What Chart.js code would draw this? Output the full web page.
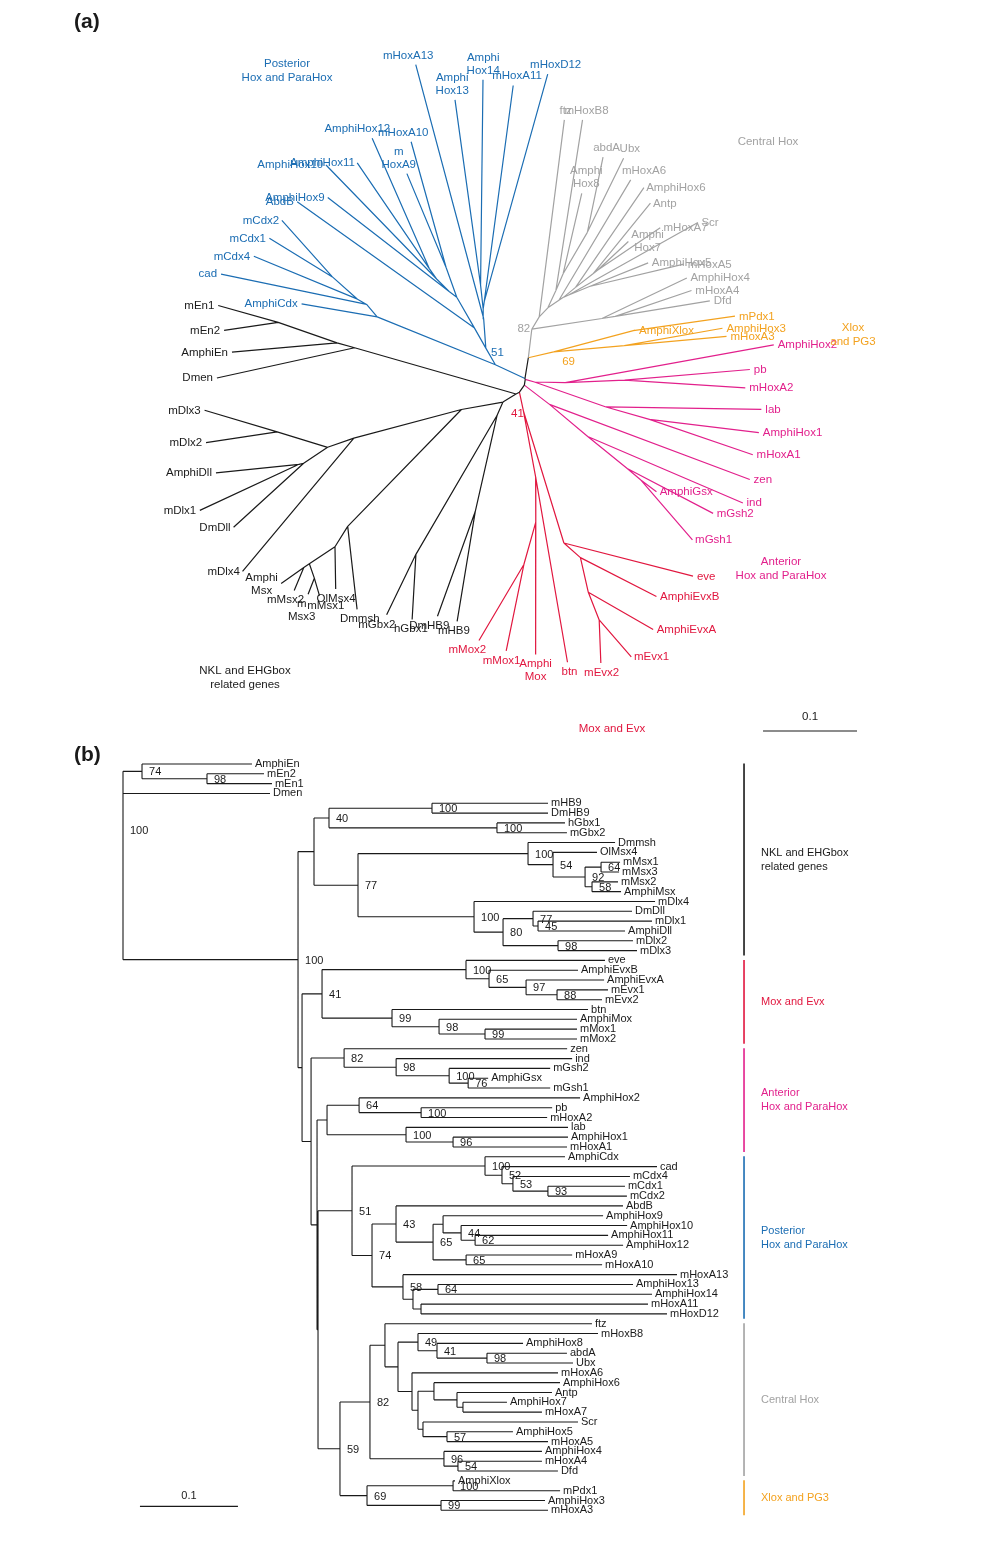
<!DOCTYPE html>
<html>
<head>
<meta charset="utf-8">
<script src="https://cdn.jsdelivr.net/npm/chart.js@4.4.1/dist/chart.umd.min.js"></script>
<style>
  html, body { margin: 0; padding: 0; background: #fff; }
  #wrap { position: relative; width: 1000px; height: 1549px; }
  canvas { position: absolute; left: 0; }
</style>
</head>
<body>
<div id="wrap">
  <canvas id="radial" width="1000" height="745" style="top:0px"></canvas>
  <canvas id="rect" width="1000" height="804" style="top:745px"></canvas>
</div>
<script>
// ---- tree data: branch lengths (substitutions/site) and bootstrap support
const enClade = "(AmphiEn:0.1122,(mEn2:0.0582,mEn1:0.0663)98:0.0663)74:0.0194";
const nklClade = "(((mHB9:0.1184,DmHB9:0.1184)100:0.1051,(hGbx1:0.0694,mGbx2:0.0714)100:0.1714)40:0.0153,((Dmmsh:0.0888,(OlMsx4:0.0449,((mMsx1:0.0194,mMsx3:0.0184)64:0.0163,(mMsx2:0.0265,AmphiMsx:0.0296)58:0.0071)92:0.0327)54:0.0255)100:0.1735,(mDlx4:0.1847,((DmDll:0.101,(mDlx1:0.1163,AmphiDll:0.0888)45:0.0051)77:0.0306,(mDlx2:0.0765,mDlx3:0.0806)98:0.0561)80:0.0296)100:0.1184)77:0.0449)NKL:0.0163";
const moxClade = "((eve:0.1418,(AmphiEvxB:0.0908,(AmphiEvxA:0.0796,(mEvx1:0.052,mEvx2:0.0459)88:0.0316)97:0.0378)65:0.0235)100:0.1469,(btn:0.2,(AmphiMox:0.1408,(mMox1:0.0939,mMox2:0.0939)99:0.0469)98:0.048)99:0.0714)41:0.0204";
const gsxClade = "(zen:0.2276,(ind:0.1796,(mGsh2:0.1031,(AmphiGsx:0.0204,mGsh1:0.0837)76:0.0194)100:0.0541)98:0.0531)82:0.0337";
const hox12Clade = "((AmphiHox2:0.2255,(pb:0.1337,mHoxA2:0.1286)100:0.0633)64:0.0327,(lab:0.1653,(AmphiHox1:0.1173,mHoxA1:0.1163)96:0.048)100:0.0806):0.0102";
const postClade = "((AmphiCdx:0.0816,(cad:0.1582,(mCdx4:0.1194,(mCdx1:0.0786,mCdx2:0.0806)93:0.0357)53:0.0112)52:0.0173)100:0.1357,((AbdB:0.2316,((AmphiHox9:0.1633,(AmphiHox10:0.1694,(AmphiHox11:0.1357,AmphiHox12:0.151)62:0.0143)44:0.0184):0.0102,(mHoxA9:0.1082,mHoxA10:0.1388)65:0.0337)65:0.0378)43:0.0245,(mHoxA13:0.2796,((AmphiHox13:0.199,AmphiHox14:0.2184)64:0.0255,(mHoxA11:0.2316,mHoxD12:0.251):0.0082):0.0102)58:0.0316)74:0.0204)51:0.0347";
const centralClade = "((ftz:0.2112,((mHoxB8:0.1837,(AmphiHox8:0.0878,(abdA:0.0816,Ubx:0.0878)98:0.051)41:0.0194)49:0.0204,(mHoxA6:0.149,((AmphiHox6:0.1286,(Antp:0.0969,(AmphiHox7:0.0449,mHoxA7:0.0806):0.0061):0.0235):0.0163,(Scr:0.1582,(AmphiHox5:0.0673,mHoxA5:0.1031)57:0.0245):0.0051):0.0061):0.0143):0.0133):0.0153,(AmphiHox4:0.1,(mHoxA4:0.0857,Dfd:0.102)54:0.0143)96:0.0755)82:0.0306";
const xloxClade = "((AmphiXlox:0.002,mPdx1:0.1092)100:0.0878,(AmphiHox3:0.1061,mHoxA3:0.1092)99:0.0755)69:0.0276";

const treeNewick = `(${enClade},Dmen:0.15,(${nklClade},(${moxClade},(${gsxClade},(${hox12Clade},(${postClade},(${centralClade},${xloxClade})59:0.0224)E:0.001)D:0.0061)C:0.0092)B:0.0041)A|100:0.1786)R|100;`;

// clade groups (first / last leaf in panel b order)
const cladeFirst = ['AmphiEn', 'eve', 'zen', 'AmphiCdx', 'ftz', 'AmphiXlox'];
const cladeLast = ['mDlx3', 'mMox2', 'mHoxA1', 'mHoxD12', 'Dfd', 'mHoxA3'];
const cladeColors = ['#1a1a1a', '#e1173f', '#e2208c', '#1b6db3', '#a2a2a2', '#f3a21f'];
const cladeTextA = [['NKL and EHGbox', 'related genes'], ['Mox and Evx'], ['Anterior', 'Hox and ParaHox'], ['Posterior', 'Hox and ParaHox'], ['Central Hox'], ['Xlox', 'and PG3']];
const cladeTextB = [['NKL and EHGbox', 'related genes'], ['Mox and Evx'], ['Anterior', 'Hox and ParaHox'], ['Posterior', 'Hox and ParaHox'], ['Central Hox'], ['Xlox and PG3']];
const cladeTextPosA = [[245, 671], [612, 729], [781, 562], [287, 64], [768, 142], [853, 328]];

// radial (unrooted) panel: backbone nodes drawn mirrored, labels split on two lines
const radialReversed = ['A', 'R', 'B', 'C', 'D'];
const radialStartDeg = 166;
const radialAnchorDeg = 164;   // direction of the A -> R branch
const radialPasses = 30;
const radialSplit = ['AmphiHox13', 'AmphiHox14', 'mHoxA9', 'AmphiHox8', 'AmphiHox7', 'AmphiMox', 'AmphiMsx', 'mMsx3'];
const radialSupportClades = [1, 3, 4, 5];
const radialSupportOffset = [[-6, 3], [2, -12], [-8, 0], [15, 10]];

const FONT = '"Liberation Sans", Arial, Helvetica, sans-serif';

function parseNewick(str) {
  str = str.replace(/\s+/g, '');
  let i = 0;
  function node() {
    const n = { kids: [], len: 0, label: '' };
    if (str[i] === '(') {
      i++;
      n.kids.push(node());
      while (str[i] === ',') { i++; n.kids.push(node()); }
      i++;
    }
    let lab = '';
    while (i < str.length && !',():;'.includes(str[i])) lab += str[i++];
    if (str[i] === ':') {
      i++;
      let num = '';
      while (i < str.length && !',();'.includes(str[i])) num += str[i++];
      n.len = parseFloat(num);
    }
    n.label = lab;
    return n;
  }
  return node();
}

const tree = parseNewick(treeNewick);
const nodes = [];
const leaves = [];
(function walk(n, parentDepth, parent) {
  n.parent = parent;
  n.depth = parent ? parentDepth + n.len : 0;
  nodes.push(n);
  if (!n.kids.length) {
    n.name = n.label;
    n.idx = leaves.length;
    n.y = n.idx;
    leaves.push(n);
  } else {
    n.label.split('|').forEach(p => {
      if (p === '') return;
      if (/^\d+$/.test(p)) n.support = +p; else n.name = p;
    });
    n.kids.forEach(k => walk(k, n.depth, n));
    n.y = (n.kids[0].y + n.kids[n.kids.length - 1].y) / 2;
  }
})(tree, 0, null);

const leafByName = {};
leaves.forEach(l => { leafByName[l.name] = l; });
leaves.forEach(l => {
  l.clade = 0;
  cladeFirst.forEach((f, c) => {
    if (l.idx >= leafByName[f].idx && l.idx <= leafByName[cladeLast[c]].idx) l.clade = c;
  });
});

function lca(a, b) {
  const anc = new Set();
  for (let n = a; n; n = n.parent) anc.add(n);
  for (let n = b; n; n = n.parent) if (anc.has(n)) return n;
  return null;
}

// ---- unrooted layout for panel (a): equal-angle start, then equal-daylight passes
nodes.forEach(n => {
  n.nbrs = [];
  if (n.parent) n.nbrs.push({ node: n.parent, len: n.len });
  n.kids.forEach(k => n.nbrs.push({ node: k, len: k.len }));
  if (radialReversed.includes(n.name)) n.nbrs.reverse();
});
function countLeaves(v, from) {
  if (!v.kids.length) return 1;
  let c = 0;
  v.nbrs.forEach(e => { if (e.node !== from) c += countLeaves(e.node, v); });
  return c;
}
function place(v, from, x, y, a0, a1) {
  v.rx = x; v.ry = y; v.rkids = [];
  let order = v.nbrs;
  if (from) {
    const k = order.findIndex(e => e.node === from);
    order = order.slice(k + 1).concat(order.slice(0, k));
  }
  const counts = order.map(e => countLeaves(e.node, v));
  const total = counts.reduce((s, c) => s + c, 0);
  let a = a0;
  order.forEach((e, i) => {
    const w = (a1 - a0) * counts[i] / total;
    const m = a + w / 2;
    e.node.rparent = v;
    v.rkids.push(e.node);
    place(e.node, v, x + e.len * Math.cos(m), y + e.len * Math.sin(m), a, a + w);
    a += w;
  });
}
const radialRoot = nodes.find(n => n.name === 'A');
const t0 = radialStartDeg * Math.PI / 180;
place(radialRoot, null, 0, 0, t0, t0 - 2 * Math.PI);

const TAU = 2 * Math.PI;
function norm(a) { a %= TAU; return a < 0 ? a + TAU : a; }
function wrapPi(a) { a = norm(a); return a > Math.PI ? a - TAU : a; }
// angular sector covered by the subtree hanging from u, as seen from v (edges included)
function arcOf(v, u) {
  const list = [];
  let lo = Infinity, hi = -Infinity;
  (function go(n, from, prev) {
    const raw = Math.atan2(n.ry - v.ry, n.rx - v.rx);
    const ang = prev === null ? raw : prev + wrapPi(raw - prev);
    list.push(n);
    lo = Math.min(lo, ang); hi = Math.max(hi, ang);
    n.nbrs.forEach(e => { if (e.node !== from) go(e.node, n, ang); });
  })(u, v, null);
  return { list, start: lo, len: hi - lo };
}
function rotateNodes(list, cx, cy, a) {
  const c = Math.cos(a), s = Math.sin(a);
  list.forEach(n => {
    const dx = n.rx - cx, dy = n.ry - cy;
    n.rx = cx + dx * c - dy * s;
    n.ry = cy + dx * s + dy * c;
  });
}
// subtrees around each node keep their drawing order (counter-clockwise = reversed neighbour list)
function daylightPass() {
  nodes.forEach(v => {
    if (v.nbrs.length < 3) return;
    const subs = v.nbrs.slice().reverse().map(e => arcOf(v, e.node));
    const gap = (TAU - subs.reduce((s, t) => s + t.len, 0)) / subs.length;
    if (gap <= 0) return;
    let cur = subs[0].start + subs[0].len + gap;
    for (let i = 1; i < subs.length; i++) {
      rotateNodes(subs[i].list, v.rx, v.ry, wrapPi(cur - subs[i].start));
      cur += subs[i].len + gap;
    }
  });
}
for (let p = 0; p < radialPasses; p++) daylightPass();

// re-centre on node A and turn so the A -> R branch points at radialAnchorDeg
{
  const ax0 = radialRoot.rx, ay0 = radialRoot.ry;
  nodes.forEach(n => { n.rx -= ax0; n.ry -= ay0; });
  const rNode = nodes.find(n => n.name === 'R');
  rotateNodes(nodes, 0, 0, radialAnchorDeg * Math.PI / 180 - Math.atan2(rNode.ry, rNode.rx));
}
nodes.forEach(n => { if (n.rparent) n.rangle = Math.atan2(n.ry - n.rparent.ry, n.rx - n.rparent.rx); });

function radialClade(n) {
  if (!n.rkids.length) return n.clade;
  const cs = n.rkids.map(radialClade);
  return cs.every(c => c === cs[0]) ? cs[0] : 0;
}

const radialSegs = cladeColors.map(() => []);
nodes.forEach(n => {
  if (!n.rparent) return;
  radialSegs[radialClade(n)].push({ x: n.rparent.rx, y: n.rparent.ry }, { x: n.rx, y: n.ry }, { x: NaN, y: NaN });
});

function splitLabel(name) {
  if (!radialSplit.includes(name)) return [name];
  if (name.startsWith('Amphi')) return ['Amphi', name.slice(5)];
  return [name.slice(0, 1), name.slice(1)];
}

// panel (a) placement: node A at page (516, 394), 940 px per unit
const radialBarX = 0.2628, radialBarY = -0.3585;

const radialText = {
  id: 'radialText',
  afterDatasetsDraw(chart) {
    const { ctx, scales: { x, y } } = chart;
    ctx.save();
    ctx.font = `11.5px ${FONT}`;
    ctx.textBaseline = 'top';
    const lh = 13;
    leaves.forEach(l => {
      const px = x.getPixelForValue(l.rx), py = y.getPixelForValue(l.ry);
      const c = Math.cos(l.rangle), s = Math.sin(l.rangle);
      const lines = splitLabel(l.name);
      const h = lines.length * lh;
      const w = Math.max(...lines.map(t => ctx.measureText(t).width));
      let cx, top;
      if (Math.abs(c) >= 0.55) {
        // side label: flush against the tip, vertically centred
        cx = px + c * 4 + Math.sign(c) * w / 2;
        top = py - h / 2;
      } else {
        // label above / below the tip, slid along with the branch
        cx = px + c * (4 + w / 2);
        top = s > 0 ? py - 3 - h : py + 3;
      }
      ctx.textAlign = 'center';
      ctx.fillStyle = cladeColors[l.clade];
      lines.forEach((t, i) => ctx.fillText(t, cx, top + i * lh + 1));
    });
    ctx.textBaseline = 'middle';
    radialSupportClades.forEach((c, i) => {
      const n = lca(leafByName[cladeFirst[c]], leafByName[cladeLast[c]]);
      ctx.fillStyle = cladeColors[c];
      ctx.fillText(String(n.support), x.getPixelForValue(n.rx) + radialSupportOffset[i][0], y.getPixelForValue(n.ry) + radialSupportOffset[i][1]);
    });
    cladeTextA.forEach((lines, c) => {
      ctx.fillStyle = cladeColors[c];
      lines.forEach((t, i) => ctx.fillText(t, cladeTextPosA[c][0], cladeTextPosA[c][1] + i * 14));
    });
    ctx.fillStyle = '#1a1a1a';
    ctx.fillText('0.1', x.getPixelForValue(radialBarX + 0.05), y.getPixelForValue(radialBarY) - 14);
    ctx.font = `bold 21px ${FONT}`;
    ctx.textAlign = 'left';
    ctx.fillText('(a)', 74, 22);
    ctx.restore();
  }
};

const radialDatasets = radialSegs.map((d, c) => ({
  data: d, borderColor: cladeColors[c], borderWidth: 1.2, pointRadius: 0, tension: 0, spanGaps: false, fill: false
}));
radialDatasets.push({
  data: [{ x: radialBarX, y: radialBarY }, { x: radialBarX + 0.1, y: radialBarY }],
  borderColor: '#1a1a1a', borderWidth: 1.2, pointRadius: 0, fill: false
});

new Chart(document.getElementById('radial'), {
  type: 'line',
  data: { datasets: radialDatasets },
  options: {
    responsive: false, animation: false, devicePixelRatio: 1, events: [],
    layout: { padding: 0 },
    plugins: { legend: { display: false }, tooltip: { enabled: false } },
    scales: {
      x: { type: 'linear', display: false, min: -516 / 940, max: 484 / 940 },
      y: { type: 'linear', display: false, min: (394 - 745) / 940, max: 394 / 940 }
    }
  },
  plugins: [radialText]
});

// ---- panel (b): rectangular phylogram
const rectSegs = [];
nodes.forEach(n => {
  if (!n.kids.length) return;
  rectSegs.push({ x: n.depth, y: n.kids[0].y }, { x: n.depth, y: n.kids[n.kids.length - 1].y }, { x: NaN, y: NaN });
  n.kids.forEach(k => rectSegs.push({ x: n.depth, y: k.y }, { x: k.depth, y: k.y }, { x: NaN, y: NaN }));
});
const cladeBarX = 0.6337;
const rectBarX = 0.0173, rectBarY = 75.6;
const rectDatasets = [{
  data: rectSegs, borderColor: '#1a1a1a', borderWidth: 1.1, pointRadius: 0, tension: 0, spanGaps: false, fill: false
}];
cladeFirst.forEach((f, c) => {
  rectDatasets.push({
    data: [{ x: cladeBarX, y: leafByName[f].idx - 0.05 }, { x: cladeBarX, y: leafByName[cladeLast[c]].idx + 0.5 }],
    borderColor: cladeColors[c], borderWidth: 1.6, pointRadius: 0, fill: false
  });
});
rectDatasets.push({
  data: [{ x: rectBarX, y: rectBarY }, { x: rectBarX + 0.1, y: rectBarY }],
  borderColor: '#1a1a1a', borderWidth: 1.2, pointRadius: 0, fill: false
});

const rectText = {
  id: 'rectText',
  afterDatasetsDraw(chart) {
    const { ctx, scales: { x, y } } = chart;
    ctx.save();
    ctx.font = `11px ${FONT}`;
    ctx.fillStyle = '#1a1a1a';
    ctx.textAlign = 'left';
    ctx.textBaseline = 'middle';
    leaves.forEach(l => ctx.fillText(l.name, x.getPixelForValue(l.depth) + 3, y.getPixelForValue(l.y)));
    nodes.forEach(n => {
      if (n.support == null) return;
      const yy = n.parent ? n.y : (n.kids[1].y + n.y) / 2;
      ctx.fillText(String(n.support), x.getPixelForValue(n.depth) + 7, y.getPixelForValue(yy) + 1);
    });
    cladeTextB.forEach((lines, c) => {
      const mid = (leafByName[cladeFirst[c]].idx + leafByName[cladeLast[c]].idx + 0.5) / 2;
      const py = y.getPixelForValue(mid) - (lines.length - 1) * 7;
      ctx.fillStyle = cladeColors[c];
      lines.forEach((t, i) => ctx.fillText(t, x.getPixelForValue(cladeBarX) + 17, py + i * 14));
    });
    ctx.fillStyle = '#1a1a1a';
    ctx.textAlign = 'center';
    ctx.fillText('0.1', x.getPixelForValue(rectBarX + 0.05), y.getPixelForValue(rectBarY) - 10);
    ctx.font = `bold 21px ${FONT}`;
    ctx.textAlign = 'left';
    ctx.fillText('(b)', 74, 10);
    ctx.restore();
  }
};

// panel (b) placement: root at page x 123, 980 px per unit; leaf rows 9.82 px apart from page y 764
new Chart(document.getElementById('rect'), {
  type: 'line',
  data: { datasets: rectDatasets },
  options: {
    responsive: false, animation: false, devicePixelRatio: 1, events: [],
    layout: { padding: 0 },
    plugins: { legend: { display: false }, tooltip: { enabled: false } },
    scales: {
      x: { type: 'linear', display: false, min: -123 / 980, max: 877 / 980 },
      y: { type: 'linear', display: false, reverse: true, min: -19 / 9.82, max: -19 / 9.82 + 804 / 9.82 }
    }
  },
  plugins: [rectText]
});
</script>
</body>
</html>
